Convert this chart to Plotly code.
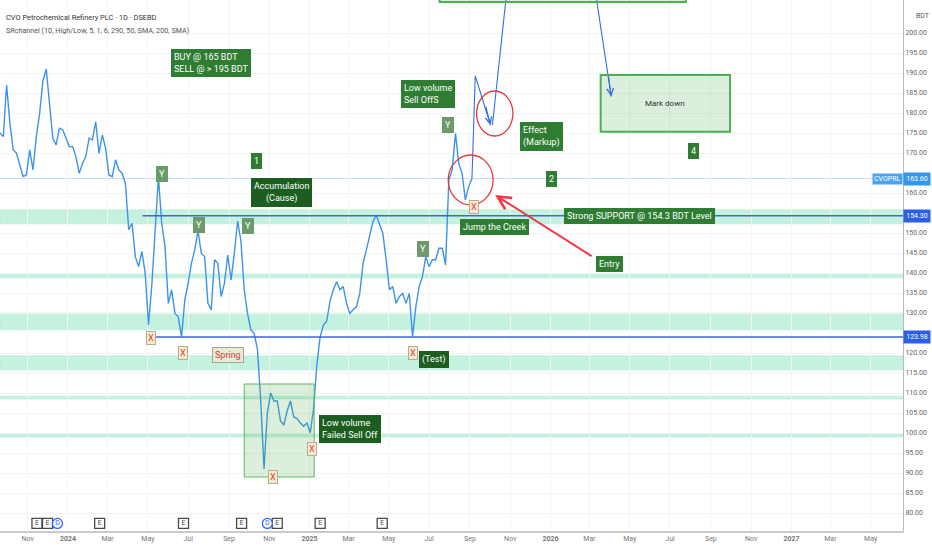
import pandas as pd
import plotly.graph_objects as go

# ---- data --------------------------------------------------------------
# daily close sampled every 5 days
dates = pd.date_range("2023-09-20", periods=144, freq="5D")
close = [
    175.0, 174.1, 187.0, 177.4, 170.8, 169.9, 167.0, 164.1, 164.5, 170.8,
    165.8, 174.1, 179.9, 188.0, 191.0, 182.4, 173.7, 172.0, 176.2, 175.8,
    173.7, 171.6, 171.6, 169.1, 164.9, 167.4, 169.1, 173.7, 173.3, 177.8,
    169.9, 174.5, 171.2, 164.5, 164.1, 168.3, 165.8, 164.9, 162.4, 150.8,
    152.4, 144.1, 141.6, 145.4, 139.9, 127.0, 137.0, 151.6, 164.0, 152.4,
    146.6, 132.4, 135.8, 129.9, 129.1, 124.0, 133.3, 137.4, 142.4, 145.8,
    150.5, 144.9, 144.1, 132.4, 130.8, 143.3, 142.4, 134.1, 137.4, 144.5,
    138.3, 144.9, 153.0, 148.0, 135.8, 129.9, 125.8, 124.9, 121.0, 108.0,
    91.0, 105.0, 110.0, 108.0, 108.0, 103.0, 102.0, 105.5, 108.0, 104.0,
    103.6, 102.5, 101.7, 102.5, 100.0, 106.0, 117.0, 124.0, 127.0, 128.0,
    133.0, 135.8, 137.8, 135.8, 136.6, 132.4, 129.9, 130.8, 131.6, 134.9,
    142.4, 145.8, 149.1, 152.8, 154.5, 152.4, 149.9, 143.3, 135.8, 136.6,
    132.4, 134.1, 134.9, 132.4, 134.9, 124.1, 131.6, 136.6, 139.1, 144.1,
    141.6, 143.3, 143.3, 146.2, 146.2, 142.0, 163.3, 165.8, 174.9, 167.4,
    164.9, 158.3, 161.6, 163.6,
]

last_price = 163.60
support_hi = 154.30
support_lo = 123.98

# SRchannel zones
zone_low = [152.3, 138.8, 125.8, 115.8, 108.5, 99.0]
zone_high = [155.8, 139.8, 130.0, 119.3, 109.2, 99.8]

# drawn projection path
proj_dates = ["2025-09-04", "2025-09-09", "2025-10-02", None,
              "2025-10-05", "2025-11-02", None, "2026-03-01", "2026-04-03"]
proj_vals = [163.6, 189.3, 177.0, None, 177.0, 220.0, None, 220.0, 184.1]

# Y / X pivot markers
y_dates = ["2024-05-22", "2024-07-18", "2024-09-29", "2025-06-22", "2025-07-29"]
y_vals = [164.75, 152.0, 151.75, 146.0, 177.1]
x_dates = ["2024-05-06", "2024-06-23", "2024-11-06", "2025-01-04",
           "2025-06-07", "2025-09-07"]
x_vals = [123.75, 119.9, 88.9, 95.9, 120.0, 156.6]

# earnings / dividend events
event_dates = ["2023-11-15", "2023-12-01", "2023-12-16", "2024-02-18",
               "2024-06-24", "2024-09-20", "2024-10-29", "2024-11-13",
               "2025-01-17", "2025-04-21"]
event_kind = ["E", "E", "D", "E", "E", "E", "D", "E", "E", "E"]

tick_dates = ["2023-09-01", "2023-11-01", "2024-01-01", "2024-03-01",
              "2024-05-01", "2024-07-01", "2024-09-01", "2024-11-01",
              "2025-01-01", "2025-03-01", "2025-05-01", "2025-07-01",
              "2025-09-01", "2025-11-01", "2026-01-01", "2026-03-01",
              "2026-05-01", "2026-07-01", "2026-09-01", "2026-11-01",
              "2027-01-01", "2027-03-01", "2027-05-01"]
tick_text = ["Sep", "Nov", "<b>2024</b>", "Mar", "May", "Jul", "Sep", "Nov",
             "<b>2025</b>", "Mar", "May", "Jul", "Sep", "Nov", "<b>2026</b>",
             "Mar", "May", "Jul", "Sep", "Nov", "<b>2027</b>", "Mar", "May"]
# price scale labels left visible (the others sit under the price tags)
price_ticks = [80, 85, 90, 95, 100, 105, 110, 115, 120, 130, 135, 140, 145,
               150, 160, 170, 175, 180, 185, 190, 195, 200]

x_range = ["2023-09-20", "2027-06-19"]
y_range = [75.5, 208.25]

#%%
GREEN = "#2e7d32"
DARK = "#1b5e20"
FONT = "Roboto"

fig = go.Figure()

fig.add_trace(go.Scatter(x=dates, y=close, mode="lines",
                         line=dict(color="#3d93ea", width=1.4)))
fig.add_trace(go.Scatter(x=proj_dates, y=proj_vals, mode="lines",
                         line=dict(color="#2f6fe4", width=1.1)))

# event markers at the bottom of the pane
ev_y = y_range[0] + 1.9
for kind, col in (("E", "#4a4a4a"), ("D", "#2962ff")):
    sel = [d for d, k in zip(event_dates, event_kind) if k == kind]
    fig.add_trace(go.Scatter(
        x=sel, y=[ev_y] * len(sel), mode="markers+text", text=[kind] * len(sel),
        textposition="middle center",
        textfont=dict(family=FONT, size=7, color=col),
        marker=dict(symbol="square" if kind == "E" else "circle", size=10,
                    color="white", line=dict(color=col, width=1.3))))

# zones and lines
for lo, hi in zip(zone_low, zone_high):
    fig.add_shape(type="rect", xref="paper", x0=0, x1=1, y0=lo, y1=hi,
                  fillcolor="#c4f2de", line=dict(color="#a9ebcf", width=0.5),
                  layer="below")
fig.add_shape(type="line", xref="paper", x0=0, x1=1, y0=last_price, y1=last_price,
              line=dict(color="#c3d9f6", width=1), layer="below")
fig.add_shape(type="line", x0="2024-04-23", x1=x_range[1], y0=support_hi, y1=support_hi,
              line=dict(color="#3b68d8", width=1.5))
fig.add_shape(type="line", x0="2024-04-28", x1=x_range[1], y0=support_lo, y1=support_lo,
              line=dict(color="#3b68d8", width=1.5))

# boxes
fig.add_shape(type="rect", x0="2024-09-24", x1="2025-01-08", y0=89.0, y1=112.25,
              fillcolor="rgba(76,175,80,0.2)", line=dict(color="#5cb85f", width=1))
fig.add_shape(type="rect", x0="2026-03-18", x1="2026-09-30", y0=175.3, y1=189.5,
              fillcolor="rgba(76,175,80,0.2)", line=dict(color="#4caf50", width=2))
fig.add_shape(type="rect", x0="2025-07-17", x1="2026-07-25", y0=207.75, y1=225,
              fillcolor="rgba(76,175,80,0.2)", line=dict(color="#4caf50", width=2))

# red circles
fig.add_shape(type="circle", x0="2025-07-30", x1="2025-10-06", y0=157.0, y1=169.5,
              line=dict(color="#e53935", width=1.3))
fig.add_shape(type="circle", x0="2025-09-11", x1="2025-11-05", y0=174.25, y1=185.5,
              line=dict(color="#e53935", width=1.3))

# ---- annotations -------------------------------------------------------
def label(text, x, y, bg=GREEN, color="white", size=9, align="center",
          border=None, pad=2):
    fig.add_annotation(x=x, y=y, text=text, showarrow=False, align=align,
                       bgcolor=bg, bordercolor=border or bg, borderwidth=1,
                       borderpad=pad, font=dict(family=FONT, size=size, color=color))

label("BUY @ 165 BDT<br>SELL @ > 195 BDT", "2024-08-05", 192.5, align="left")
label("1", "2024-10-12", 168.0)
label("Accumulation<br>(Cause)", "2024-11-19", 160.25, bg=DARK)
label("Spring", "2024-08-30", 119.6, bg="#e6ebd6", color="#e0383c", border="#a0a890")
label("(Test)", "2025-07-08", 118.4, bg=DARK)
label("Low volume<br>Failed Sell Off", "2025-03-03", 101.1, bg=DARK, align="left")
label("Low volume<br>Sell OffS", "2025-06-30", 184.75, align="left")
label("Effect<br>(Markup)", "2025-12-19", 174.1, align="left")
label("2", "2026-01-02", 163.4)
label("4", "2026-08-05", 170.5)
label("Jump the Creek", "2025-10-08", 151.5)
label("Strong SUPPORT @ 154.3 BDT Level", "2026-05-16", 154.3)
label("Entry", "2026-03-31", 142.25)
fig.add_annotation(x="2026-06-24", y=182.4, text="Mark down", showarrow=False,
                   font=dict(family=FONT, size=8, color="#333333"))

for d, v in zip(y_dates, y_vals):
    label("Y", d, v, bg="#6b9b6b")
for d, v in zip(x_dates, x_vals):
    label("X", d, v, bg="#f6ebcf", color="#e53935", border="#b5ad8f", pad=1)

# arrows
fig.add_annotation(x="2025-10-09", y=159.5, ax=98, ay=62, text="", showarrow=True,
                   arrowhead=5, arrowsize=1.3, arrowwidth=2, arrowcolor="#f23645")
fig.add_annotation(x="2025-10-02", y=177.0, ax=-5, ay=-20, text="", showarrow=True,
                   arrowhead=5, arrowsize=1.2, arrowwidth=1.1, arrowcolor="#2f6fe4")
fig.add_annotation(x="2026-04-03", y=184.1, ax=-3, ay=-22, text="", showarrow=True,
                   arrowhead=5, arrowsize=1.2, arrowwidth=1.1, arrowcolor="#2f6fe4")

# header
fig.add_annotation(xref="paper", yref="paper", x=0.004, y=0.979, xanchor="left",
                   showarrow=False, text="CVO Petrochemical Refinery PLC · 1D · DSEBD",
                   font=dict(family=FONT, size=7.4, color="#333333"))
fig.add_annotation(xref="paper", yref="paper", x=0.004, y=0.955, xanchor="left",
                   showarrow=False,
                   text="SRchannel (10, High/Low, 5, 1, 6, 290, 50, SMA, 200, SMA)",
                   font=dict(family=FONT, size=7.2, color="#555555"))

# price scale labels
fig.add_annotation(xref="paper", yref="paper", x=1.012, y=0.982, xanchor="left",
                   showarrow=False, text="BDT",
                   font=dict(family=FONT, size=7, color="#555555"))
fig.add_annotation(xref="paper", x=1, y=last_price, xanchor="right", text="CVOPRL",
                   showarrow=False, bgcolor="#4aa3f2", borderpad=1,
                   font=dict(family=FONT, size=7, color="white"))
for val, bg in ((last_price, "#3596f0"), (support_hi, "#2c5fe6"), (support_lo, "#2c5fe6")):
    fig.add_annotation(xref="paper", x=1, y=val, xanchor="left", text=f"{val:.2f}",
                       showarrow=False, bgcolor=bg, borderpad=2, width=22,
                       font=dict(family=FONT, size=7, color="white"))

fig.update_layout(
    width=932, height=550, showlegend=False,
    margin=dict(l=0, r=29, t=0, b=19),
    plot_bgcolor="white", paper_bgcolor="white",
    font=dict(family=FONT, size=7, color="#555555"),
)
fig.update_xaxes(range=x_range, tickvals=tick_dates, ticktext=tick_text,
                 showgrid=True, gridcolor="#f3f4f7", showline=True,
                 linecolor="#c8cad0", linewidth=1.5, ticks="", zeroline=False,
                 tickfont=dict(size=7, color="#777777"))
fig.update_yaxes(range=y_range, side="right", tickvals=price_ticks, tickformat=".2f",
                 showgrid=True, gridcolor="#f3f4f7", showline=True,
                 linecolor="#b8bac0", linewidth=1, ticks="", zeroline=False,
                 tickfont=dict(size=7, color="#666666"))

# the page's default body margin would push the figure off the window
fig.write_html("out.html", config={"displayModeBar": False},
               post_script="document.body.style.margin='0';")
